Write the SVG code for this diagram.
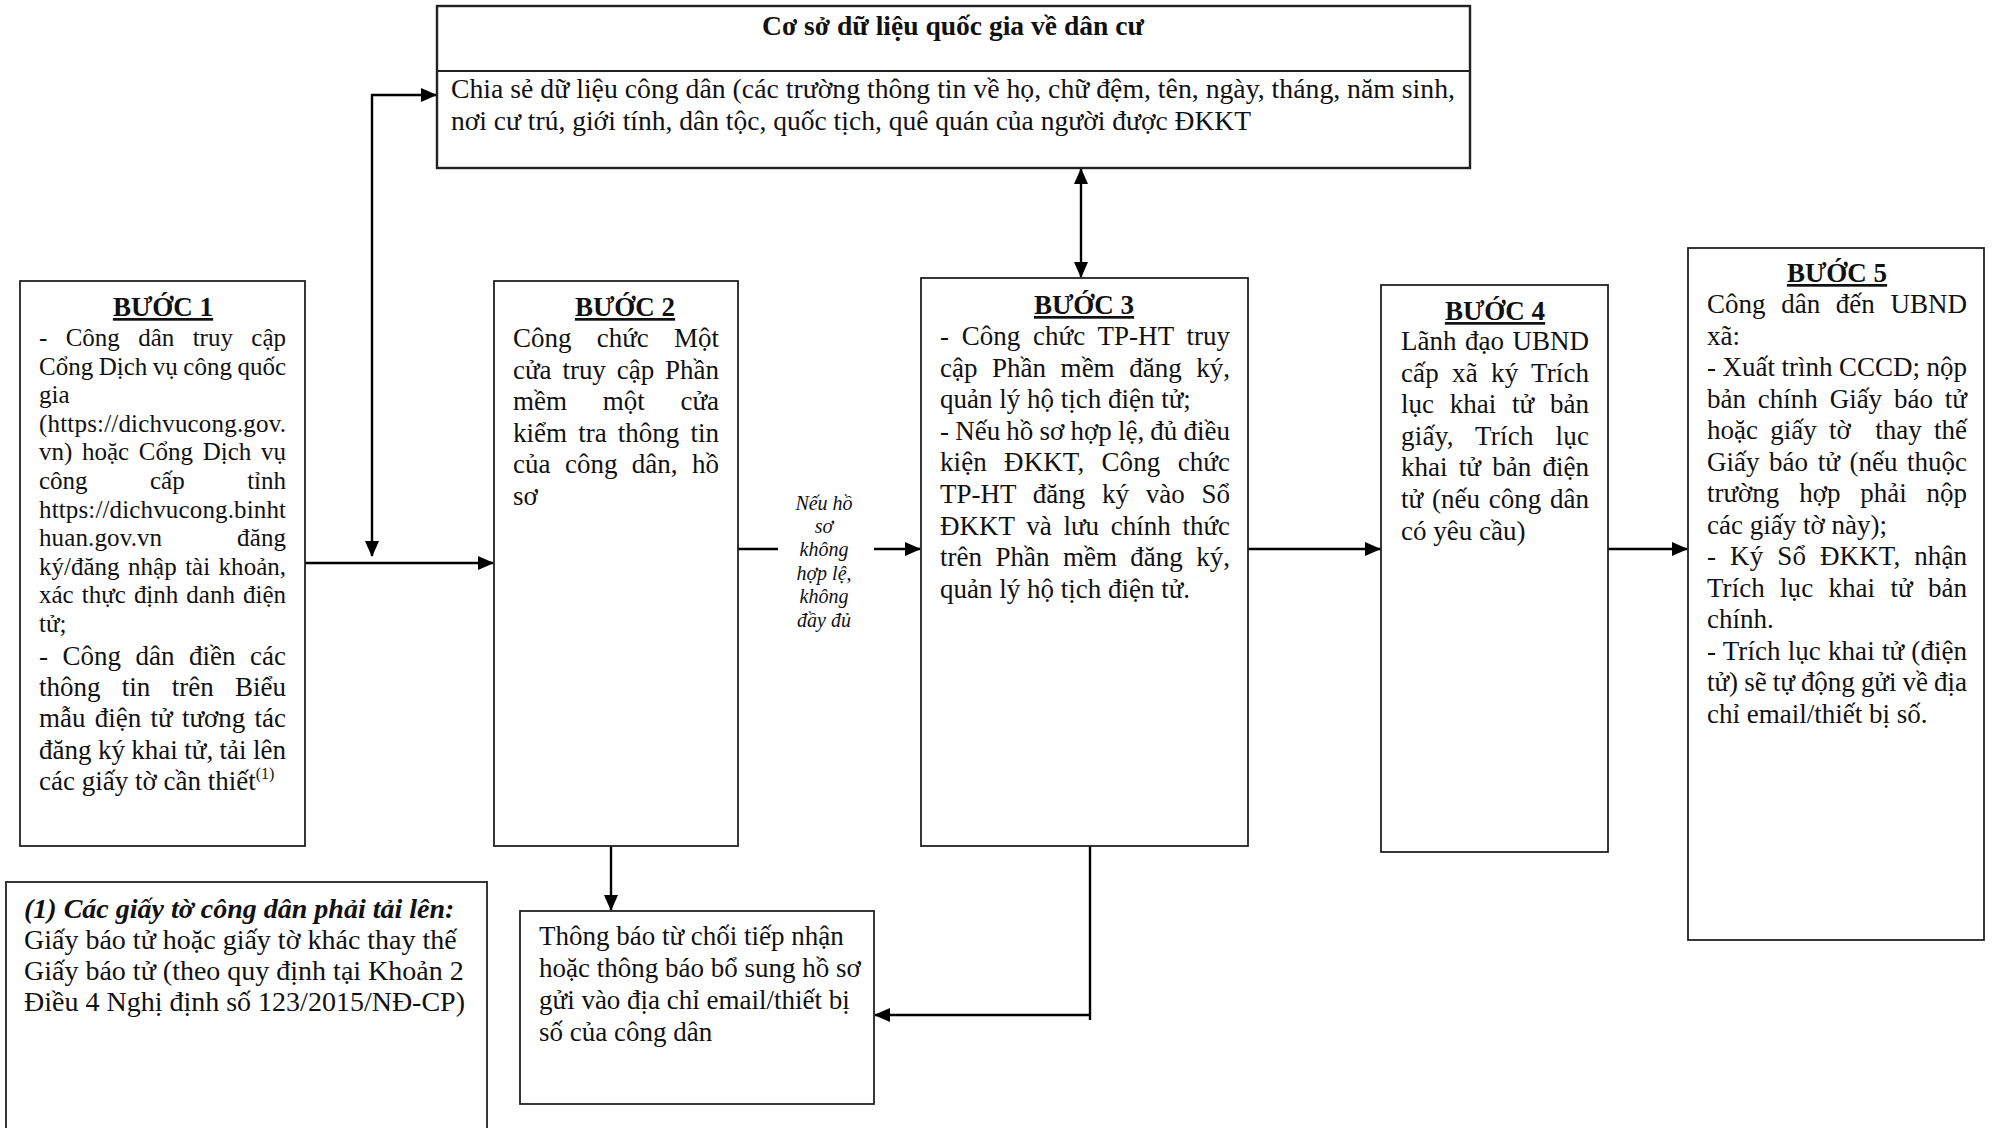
<svg xmlns="http://www.w3.org/2000/svg" width="1992" height="1128" viewBox="0 0 1992 1128">
<style>
.box{fill:#fff;stroke:#222;stroke-width:1.8}
.t{font-family:"Liberation Serif","Times New Roman",serif;font-size:27px;fill:#111}
.h{font-family:"Liberation Serif","Times New Roman",serif;font-size:27px;font-weight:bold;text-decoration:underline;fill:#111}
.lbl{font-family:"Liberation Serif","Times New Roman",serif;font-size:20px;font-style:italic;fill:#111}
.c{fill:none;stroke:#000;stroke-width:2.4}
</style>
<defs>
<marker id="ah" markerUnits="userSpaceOnUse" markerWidth="16" markerHeight="14" refX="15" refY="7" orient="auto-start-reverse">
<path d="M0,0 L16,7 L0,14 Z" fill="#000"/>
</marker>
</defs>

<g id="connectors">
<line class="c" x1="305" y1="563" x2="493" y2="563" marker-end="url(#ah)"/>
<path class="c" d="M372,556 V95 H436" marker-start="url(#ah)" marker-end="url(#ah)"/>
<line class="c" x1="1081" y1="169" x2="1081" y2="277" marker-start="url(#ah)" marker-end="url(#ah)"/>
<line class="c" x1="738" y1="549" x2="778" y2="549"/>
<line class="c" x1="874" y1="549" x2="920" y2="549" marker-end="url(#ah)"/>
<line class="c" x1="1248" y1="549" x2="1380" y2="549" marker-end="url(#ah)"/>
<line class="c" x1="1608" y1="549" x2="1687" y2="549" marker-end="url(#ah)"/>
<line class="c" x1="611" y1="846" x2="611" y2="910" marker-end="url(#ah)"/>
<path class="c" d="M1090,846 V1020"/>
<path class="c" d="M1090,1015 H875" marker-end="url(#ah)"/>
<g class="lbl" text-anchor="middle">
<text x="824" y="510">Nếu hồ</text>
<text x="824" y="533">sơ</text>
<text x="824" y="556">không</text>
<text x="824" y="580">hợp lệ,</text>
<text x="824" y="603">không</text>
<text x="824" y="627">đầy đủ</text>
</g>
</g>

<g id="csdl">
<rect class="box" x="437" y="6" width="1033" height="162" style="stroke-width:2.4"/>
<line x1="437" y1="71" x2="1470" y2="71" stroke="#222" stroke-width="1.8"/>
<text class="t" x="953" y="35" text-anchor="middle" font-weight="bold" textLength="382" lengthAdjust="spacingAndGlyphs">Cơ sở dữ liệu quốc gia về dân cư</text>
<text class="t" x="451" y="98" textLength="1004" lengthAdjust="spacingAndGlyphs">Chia sẻ dữ liệu công dân (các trường thông tin về họ, chữ đệm, tên, ngày, tháng, năm sinh,</text>
<text class="t" x="451" y="130" textLength="800" lengthAdjust="spacingAndGlyphs">nơi cư trú, giới tính, dân tộc, quốc tịch, quê quán của người được ĐKKT</text>
</g>

<g id="buoc1">
<rect class="box" x="20" y="281" width="285" height="565"/>
<text class="h" x="163" y="316" text-anchor="middle">BƯỚC 1</text>
<g class="t" style="font-size:25px">
<text x="39" y="346" word-spacing="12.1" textLength="247" lengthAdjust="spacing">- Công dân truy cập</text>
<text x="39" y="374.6" word-spacing="-0.7" textLength="247" lengthAdjust="spacing">Cổng Dịch vụ công quốc</text>
<text x="39" y="403.2">gia</text>
<text x="39" y="431.8" textLength="247" lengthAdjust="spacing">(https://dichvucong.gov.</text>
<text x="39" y="460.4" word-spacing="3.4" textLength="247" lengthAdjust="spacing">vn) hoặc Cổng Dịch vụ</text>
<text x="39" y="489" word-spacing="56.2" textLength="247" lengthAdjust="spacing">công cấp tỉnh</text>
<text x="39" y="517.6" textLength="247" lengthAdjust="spacing">https://dichvucong.binht</text>
<text x="39" y="546.2" word-spacing="68.5" textLength="247" lengthAdjust="spacing">huan.gov.vn đăng</text>
<text x="39" y="574.8" word-spacing="2.2" textLength="247" lengthAdjust="spacing">ký/đăng nhập tài khoản,</text>
<text x="39" y="603.4" word-spacing="1.8" textLength="247" lengthAdjust="spacing">xác thực định danh điện</text>
<text x="39" y="632">tử;</text>
</g>
<g class="t">
<text x="39" y="665" word-spacing="7.8" textLength="247" lengthAdjust="spacing">- Công dân điền các</text>
<text x="39" y="696" word-spacing="14.6" textLength="247" lengthAdjust="spacing">thông tin trên Biểu</text>
<text x="39" y="727" word-spacing="2.6" textLength="247" lengthAdjust="spacing">mẫu điện tử tương tác</text>
<text x="39" y="759" word-spacing="-0.3" textLength="247" lengthAdjust="spacing">đăng ký khai tử, tải lên</text>
<text x="39" y="790">các giấy tờ cần thiết<tspan font-size="16" dy="-11">(1)</tspan></text>
</g>
</g>

<g id="buoc2">
<rect class="box" x="494" y="281" width="244" height="565"/>
<text class="h" x="625" y="316" text-anchor="middle">BƯỚC 2</text>
<g class="t">
<text x="513" y="347" word-spacing="18.6" textLength="206" lengthAdjust="spacing">Công chức Một</text>
<text x="513" y="378.5" word-spacing="4.2" textLength="206" lengthAdjust="spacing">cửa truy cập Phần</text>
<text x="513" y="410" word-spacing="29.1" textLength="206" lengthAdjust="spacing">mềm một cửa</text>
<text x="513" y="441.5" word-spacing="4.4" textLength="206" lengthAdjust="spacing">kiểm tra thông tin</text>
<text x="513" y="473" word-spacing="7.7" textLength="206" lengthAdjust="spacing">của công dân, hồ</text>
<text x="513" y="504.5">sơ</text>
</g>
</g>

<g id="buoc3">
<rect class="box" x="921" y="278" width="327" height="568"/>
<text class="h" x="1084" y="314" text-anchor="middle">BƯỚC 3</text>
<g class="t">
<text x="940" y="345" word-spacing="5.9" textLength="290" lengthAdjust="spacing">- Công chức TP-HT truy</text>
<text x="940" y="376.6" word-spacing="7.8" textLength="290" lengthAdjust="spacing">cập Phần mềm đăng ký,</text>
<text x="940" y="408.2">quản lý hộ tịch điện tử;</text>
<text x="940" y="439.8" word-spacing="-0.6" textLength="290" lengthAdjust="spacing">- Nếu hồ sơ hợp lệ, đủ điều</text>
<text x="940" y="471.4" word-spacing="10.4" textLength="290" lengthAdjust="spacing">kiện ĐKKT, Công chức</text>
<text x="940" y="503" word-spacing="9.9" textLength="290" lengthAdjust="spacing">TP-HT đăng ký vào Sổ</text>
<text x="940" y="534.6" word-spacing="5" textLength="290" lengthAdjust="spacing">ĐKKT và lưu chính thức</text>
<text x="940" y="566.2" word-spacing="6.7" textLength="290" lengthAdjust="spacing">trên Phần mềm đăng ký,</text>
<text x="940" y="597.8">quản lý hộ tịch điện tử.</text>
</g>
</g>

<g id="buoc4">
<rect class="box" x="1381" y="285" width="227" height="567"/>
<text class="h" x="1495" y="320" text-anchor="middle">BƯỚC 4</text>
<g class="t">
<text x="1401" y="350" word-spacing="1.7" textLength="188" lengthAdjust="spacing">Lãnh đạo UBND</text>
<text x="1401" y="381.6" word-spacing="6.4" textLength="188" lengthAdjust="spacing">cấp xã ký Trích</text>
<text x="1401" y="413.2" word-spacing="9.2" textLength="188" lengthAdjust="spacing">lục khai tử bản</text>
<text x="1401" y="444.8" word-spacing="14.9" textLength="188" lengthAdjust="spacing">giấy, Trích lục</text>
<text x="1401" y="476.4" word-spacing="4.7" textLength="188" lengthAdjust="spacing">khai tử bản điện</text>
<text x="1401" y="508" word-spacing="2.2" textLength="188" lengthAdjust="spacing">tử (nếu công dân</text>
<text x="1401" y="539.6">có yêu cầu)</text>
</g>
</g>

<g id="buoc5">
<rect class="box" x="1688" y="248" width="296" height="692"/>
<text class="h" x="1837" y="282" text-anchor="middle">BƯỚC 5</text>
<g class="t">
<text x="1707" y="313" word-spacing="8.9" textLength="260" lengthAdjust="spacing">Công dân đến UBND</text>
<text x="1707" y="344.5">xã:</text>
<text x="1707" y="376" word-spacing="-0.3" textLength="260" lengthAdjust="spacing">- Xuất trình CCCD; nộp</text>
<text x="1707" y="407.5" word-spacing="5.2" textLength="260" lengthAdjust="spacing">bản chính Giấy báo tử</text>
<text x="1707" y="439" word-spacing="5.5" textLength="260" lengthAdjust="spacing" xml:space="preserve">hoặc giấy tờ  thay thế</text>
<text x="1707" y="470.5" word-spacing="2.9" textLength="260" lengthAdjust="spacing">Giấy báo tử (nếu thuộc</text>
<text x="1707" y="502" word-spacing="13.1" textLength="260" lengthAdjust="spacing">trường hợp phải nộp</text>
<text x="1707" y="533.5">các giấy tờ này);</text>
<text x="1707" y="565" word-spacing="7.1" textLength="260" lengthAdjust="spacing">- Ký Sổ ĐKKT, nhận</text>
<text x="1707" y="596.5" word-spacing="8.5" textLength="260" lengthAdjust="spacing">Trích lục khai tử bản</text>
<text x="1707" y="628">chính.</text>
<text x="1707" y="659.5" word-spacing="0.4" textLength="260" lengthAdjust="spacing">- Trích lục khai tử (điện</text>
<text x="1707" y="691" word-spacing="-0.6" textLength="260" lengthAdjust="spacing">tử) sẽ tự động gửi về địa</text>
<text x="1707" y="722.5">chỉ email/thiết bị số.</text>
</g>
</g>

<g id="ghichu">
<rect class="box" x="6" y="882" width="481" height="260"/>
<g class="t" style="font-size:28px">
<text x="24" y="918" font-weight="bold" font-style="italic">(1) Các giấy tờ công dân phải tải lên:</text>
<text x="24" y="949">Giấy báo tử hoặc giấy tờ khác thay thế</text>
<text x="24" y="980">Giấy báo tử (theo quy định tại Khoản 2</text>
<text x="24" y="1011">Điều 4 Nghị định số 123/2015/NĐ-CP)</text>
</g>
</g>

<g id="thongbao">
<rect class="box" x="520" y="911" width="354" height="193"/>
<g class="t">
<text x="539" y="945">Thông báo từ chối tiếp nhận</text>
<text x="539" y="977">hoặc thông báo bổ sung hồ sơ</text>
<text x="539" y="1009">gửi vào địa chỉ email/thiết bị</text>
<text x="539" y="1041">số của công dân</text>
</g>
</g>
</svg>
